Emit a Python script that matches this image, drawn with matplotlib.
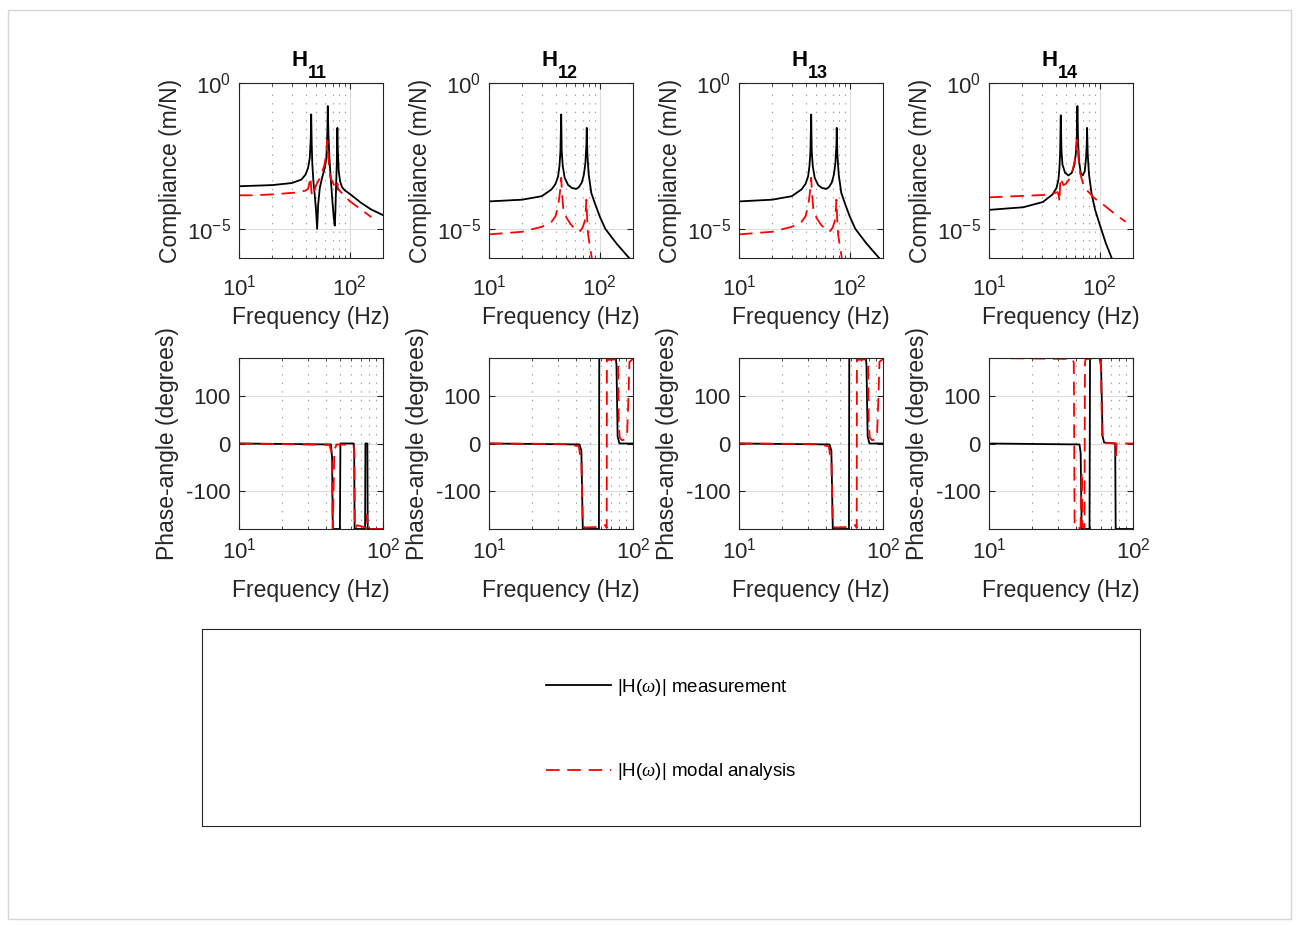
import numpy as np
import matplotlib
matplotlib.use("Agg")
import matplotlib.pyplot as plt
from matplotlib.ticker import LogLocator, NullLocator, NullFormatter, FixedLocator
from matplotlib.patches import Rectangle
from matplotlib.transforms import offset_copy

plt.rcParams["font.family"] = ["Liberation Sans", "DejaVu Sans"]
plt.rcParams["mathtext.fontset"] = "custom"
plt.rcParams["mathtext.rm"] = "Liberation Sans"
plt.rcParams["mathtext.bf"] = "Liberation Sans:bold"
plt.rcParams["mathtext.it"] = "Liberation Serif:italic"
plt.rcParams["axes.unicode_minus"] = False

# ---------------------------------------------------------------------------
# FRF data: frequency (Hz), log10 compliance (m/N), phase (degrees)
# ---------------------------------------------------------------------------
titles = ["11", "12", "13", "14"]

# H11
f_meas_11 = [10, 20, 30, 36.7, 39.9, 42.1, 43.6, 44.5, 44.9, 45.4,
             46.0, 47.0, 48.3, 49.7, 50.8, 51.9, 53.7, 56.3, 59.6, 61.6,
             62.9, 63.4, 64.3, 65.6, 67.4, 69.8, 71.8, 73.3, 74.3, 75.3,
             76.4, 76.9, 77.4, 78.2, 79.6, 81.9, 85.3, 90.2, 100, 127,
             157, 200]
logc_meas_11 = [-3.54, -3.50, -3.43, -3.31, -3.14, -2.91, -2.57, -1.88, -1.08, -2.11,
                -2.80, -3.37, -3.82, -4.39, -5.00, -4.17, -3.60, -3.25, -2.91, -2.57,
                -1.66, -0.79, -1.77, -2.57, -3.25, -4.05, -4.62, -4.89, -4.39, -3.60,
                -2.80, -2.11, -1.54, -2.34, -3.03, -3.37, -3.57, -3.68, -3.80, -4.11,
                -4.34, -4.53]
f_modal_11 = [10, 13, 20, 31.9, 39.9, 42.1, 43.3, 43.9, 44.5, 45.1,
              45.8, 47.0, 50.1, 54.8, 58.8, 61.1, 62.3, 62.9, 63.6, 65.0,
              67.0, 72.3, 75.9, 76.9, 77.6, 78.3, 79.1, 100, 127, 157]
logc_modal_11 = [-3.85, -3.85, -3.82, -3.76, -3.69, -3.63, -3.42, -3.23, -3.37, -3.71,
                 -3.88, -3.77, -3.48, -3.20, -2.85, -2.51, -2.17, -1.97, -2.34, -2.85,
                 -3.25, -3.50, -3.60, -3.62, -3.45, -3.66, -3.65, -4.05, -4.34, -4.60]
fp_meas_11 = [10, 43.5, 44.3, 44.8, 50.2, 50.6, 62.6, 63.1, 63.5, 75.1, 75.5, 77.9, 78.3, 100]
ph_meas_11 = [0, -2, -30, -180, -180, 0, 0, -15, -180, -180, 0, 0, -180, -180]
fp_modal_11 = [10, 42.5, 44.0, 44.8, 45.3, 45.9, 47.5, 62.4, 63.2, 63.8,
               66.0, 74.0, 76.8, 77.3, 77.8, 100]
ph_modal_11 = [0, -3, -20, -180, -110, -15, -2, -3, -20, -180,
               -172, -176, -178, -150, -180, -180]

# H12
f_meas_12 = [10, 20, 30, 36.7, 39.9, 42.1, 43.3, 44.2, 44.9, 45.4,
             46.4, 48.3, 51.9, 56.3, 61.6, 64.9, 68.8, 72.0, 74.3, 75.9,
             76.4, 77.4, 79.6, 84.0, 90.2, 100, 112.4, 141.6, 184.5, 200]
logc_meas_12 = [-4.06, -4.00, -3.88, -3.65, -3.46, -3.20, -2.85, -2.34, -1.08, -2.34,
                -2.85, -3.25, -3.50, -3.60, -3.63, -3.57, -3.42, -3.14, -2.74, -2.11,
                -1.54, -2.45, -3.14, -3.77, -4.11, -4.57, -5.00, -5.50, -6.00, -6.15]
f_modal_12 = [10, 20, 30, 36.7, 39.9, 42.1, 43.3, 44.2, 44.9, 45.4,
              45.8, 47.0, 50.1, 54.8, 60.4, 65.6, 69.9, 73.3, 74.8, 75.9,
              77.0, 78.6, 82.0, 85.3, 87.6]
logc_modal_12 = [-5.19, -5.10, -4.93, -4.76, -4.57, -4.22, -3.88, -3.60, -3.25, -3.60,
                 -3.82, -4.34, -4.62, -4.85, -5.02, -5.10, -4.97, -4.74, -4.39, -4.00,
                 -4.62, -5.19, -5.65, -6.05, -6.68]
fp_meas_12 = [10, 42.5, 43.8, 44.8, 58.0, 58.3, 76.0, 76.8, 78.2, 80.5, 100]
ph_meas_12 = [0, -2, -15, -180, -180, 180, 180, 165, 15, 0, 0]
fp_modal_12 = [10, 35, 42, 43.8, 44.8, 46, 55, 64.5, 65.7, 65.9,
               66.6, 77, 78.8, 79.6, 81, 84, 88, 91, 93, 94.5, 100]
ph_modal_12 = [0, -1, -6, -40, -172, -177, -176, -172, -178, 179,
               176, 177, 170, 40, 12, 7, 8, 20, 100, 172, 178]

# H13
f_meas_13 = list(f_meas_12)
logc_meas_13 = list(logc_meas_12)
f_modal_13 = list(f_modal_12)
logc_modal_13 = list(logc_modal_12)
fp_meas_13 = list(fp_meas_12)
ph_meas_13 = list(ph_meas_12)
fp_modal_13 = list(fp_modal_12)
ph_modal_13 = list(ph_modal_12)

# H14
f_meas_14 = [10, 20.4, 30.7, 37.5, 40.7, 42.4, 43.3, 43.9, 44.5, 45.2,
             46.1, 48.7, 52.2, 56.0, 58.7, 60.8, 62.1, 62.9, 63.8, 65.1,
             67.4, 70.3, 73.3, 75.3, 76.4, 76.9, 78.0, 80.1, 84.7, 90.8,
             100, 113.3, 128.3, 139.3]
logc_meas_14 = [-4.35, -4.26, -4.08, -3.82, -3.60, -3.31, -2.91, -2.40, -1.11, -2.34,
                -2.80, -3.08, -3.17, -3.08, -2.85, -2.45, -1.88, -0.79, -2.00, -2.68,
                -3.08, -3.17, -3.03, -2.57, -2.11, -1.54, -2.45, -3.14, -3.82, -4.34,
                -4.85, -5.48, -6.00, -6.34]
f_modal_14 = [10, 20.4, 30.7, 37.5, 41.6, 42.8, 43.3, 43.9, 44.5, 45.5,
              47.1, 49.4, 52.9, 56.7, 59.4, 61.4, 62.9, 64.3, 66.6, 69.6,
              73.3, 80.9, 88.9, 100, 112, 139.3, 172]
logc_modal_14 = [-3.92, -3.87, -3.84, -3.80, -3.74, -3.88, -4.08, -3.48, -3.25, -3.37,
                 -3.50, -3.46, -3.31, -3.03, -2.68, -2.28, -1.94, -2.57, -3.08, -3.37,
                 -3.60, -3.77, -3.94, -4.08, -4.22, -4.51, -4.76]
fp_meas_14 = [10, 42.5, 43.3, 44.0, 49.9, 50.3, 59.0, 60.0, 61.5, 63, 75.2, 75.8, 100]
ph_meas_14 = [0, -2, -20, -180, -180, 180, 180, 165, 15, 2, 0, -180, -180]
fp_modal_14 = [10, 38.0, 38.8, 39.3, 40.0, 43.2, 43.7, 44.1, 44.6, 46.0,
               46.4, 46.9, 58.5, 59.8, 61.0, 62.5, 65, 75.6, 76.2, 76.8, 100]
ph_modal_14 = [180, 178, 170, -170, -178, -178, -110, -60, -175, -178,
               170, 178, 178, 165, 20, 3, 1, 0, -25, 0, 0]

magnitude_sets = [
    (f_meas_11, logc_meas_11, f_modal_11, logc_modal_11),
    (f_meas_12, logc_meas_12, f_modal_12, logc_modal_12),
    (f_meas_13, logc_meas_13, f_modal_13, logc_modal_13),
    (f_meas_14, logc_meas_14, f_modal_14, logc_modal_14),
]
phase_sets = [
    (fp_meas_11, ph_meas_11, fp_modal_11, ph_modal_11),
    (fp_meas_12, ph_meas_12, fp_modal_12, ph_modal_12),
    (fp_meas_13, ph_meas_13, fp_modal_13, ph_modal_13),
    (fp_meas_14, ph_meas_14, fp_modal_14, ph_modal_14),
]

legend_labels = [r"|H($\omega$)| measurement", r"|H($\omega$)| modal analysis"]

# ---------------------------------------------------------------------------
# Layout (pixel geometry on a 1296 x 925 canvas)
# ---------------------------------------------------------------------------
FW, FH = 1296, 925
fig = plt.figure(figsize=(FW / 100, FH / 100), dpi=100)


def px_rect(x0, y_top, w, h):
    return [x0 / FW, 1 - (y_top + h) / FH, w / FW, h / FH]


col_left = [239, 489, 739, 989]
AX_W = 144

TICK_FS = 16
LABEL_FS = 16.5
TITLE_FS = 16
TITLE_SUB_FS = 13
LINE_W = 1.3
RED_DASH = (7.5, 4.3)
MAJOR_GRID = dict(color="#dcdcdc", linewidth=0.8, linestyle="-")
MINOR_GRID = dict(color="#9a9a9a", linewidth=0.8, linestyle=(0, (1.2, 6.5)))
TEXT_COLOR = "#262626"


def style_axes(ax, xpad, xlabelpad, ylabel, ylabelpad):
    for sp in ax.spines.values():
        sp.set_color(TEXT_COLOR)
        sp.set_linewidth(0.8)
    ax.tick_params(which="both", direction="in", top=True, right=True,
                   colors=TEXT_COLOR, labelcolor=TEXT_COLOR, labelsize=TICK_FS)
    ax.tick_params(which="major", length=4, width=0.8)
    ax.tick_params(which="minor", length=2.2, width=0.6)
    ax.tick_params(axis="x", which="major", pad=xpad)
    ax.tick_params(axis="y", which="major", pad=6)
    ax.set_axisbelow(True)
    ax.grid(True, which="major", **MAJOR_GRID)
    ax.xaxis.grid(True, which="minor", **MINOR_GRID)
    ax.xaxis.set_minor_locator(LogLocator(base=10, subs=np.arange(2, 10)))
    ax.xaxis.set_minor_formatter(NullFormatter())
    ax.set_xlabel("Frequency (Hz)", fontsize=LABEL_FS, color=TEXT_COLOR,
                  labelpad=xlabelpad)
    ax.set_ylabel(ylabel, fontsize=LABEL_FS, color=TEXT_COLOR, labelpad=ylabelpad)


def subscript_title(ax, sub):
    """Bold 'H' with a dropped bold subscript, centred above the axes."""
    base = offset_copy(ax.transAxes, fig=fig, x=-2.2, y=12.2, units="points")
    low = offset_copy(ax.transAxes, fig=fig, x=-2.2, y=3.6, units="points")
    ax.text(0.5, 1.0, "H", transform=base, ha="right", va="baseline",
            fontsize=TITLE_FS, fontweight="bold", color="black")
    ax.text(0.5, 1.0, sub, transform=low, ha="left", va="baseline",
            fontsize=TITLE_SUB_FS, fontweight="bold", color="black")


handles = None
for i, x0 in enumerate(col_left):
    # compliance magnitude
    ax = fig.add_axes(px_rect(x0, 83, AX_W, 175))
    fm, lm, fmod, lmod = magnitude_sets[i]
    h1, = ax.loglog(fm, 10 ** np.asarray(lm), color="black", lw=LINE_W)
    h2, = ax.loglog(fmod, 10 ** np.asarray(lmod), color="red", lw=LINE_W,
                    linestyle="--", dashes=RED_DASH)
    if handles is None:
        handles = [h1, h2]
    ax.set_xlim(10, 200)
    ax.set_ylim(1e-6, 1e0)
    ax.yaxis.set_major_locator(FixedLocator([1e-5, 1e0]))
    ax.yaxis.set_minor_locator(NullLocator())
    ax.xaxis.set_major_locator(FixedLocator([10, 100]))
    style_axes(ax, xpad=12, xlabelpad=4, ylabel="Compliance (m/N)", ylabelpad=3.5)
    subscript_title(ax, titles[i])

    # phase
    axp = fig.add_axes(px_rect(x0, 358, AX_W, 171))
    fpm, pm, fpmod, pmod = phase_sets[i]
    axp.semilogx(fpm, pm, color="black", lw=LINE_W)
    axp.semilogx(fpmod, pmod, color="red", lw=LINE_W, linestyle="--", dashes=RED_DASH)
    axp.set_xlim(10, 100)
    axp.set_ylim(-180, 180)
    axp.set_yticks([-100, 0, 100])
    axp.xaxis.set_major_locator(FixedLocator([10, 100]))
    style_axes(axp, xpad=6.5, xlabelpad=10.5, ylabel="Phase-angle (degrees)",
               ylabelpad=5)

# legend panel
lax = fig.add_axes(px_rect(202, 629, 938, 197))
lax.set_xticks([])
lax.set_yticks([])
for sp in lax.spines.values():
    sp.set_color(TEXT_COLOR)
    sp.set_linewidth(0.8)
lax.legend(handles, legend_labels, loc="center", bbox_to_anchor=(0.5, 0.49),
           frameon=False, fontsize=13.5, handlelength=3.5, handletextpad=0.3,
           labelspacing=3.4)

# light outer frame of the canvas
fig.patches.append(Rectangle((8 / FW, 1 - 919 / FH), (1291 - 8) / FW, (919 - 10) / FH,
                             transform=fig.transFigure, fill=False,
                             edgecolor="#d6d6d6", linewidth=1.0))

fig.savefig("out.png", dpi=100, facecolor="white")
